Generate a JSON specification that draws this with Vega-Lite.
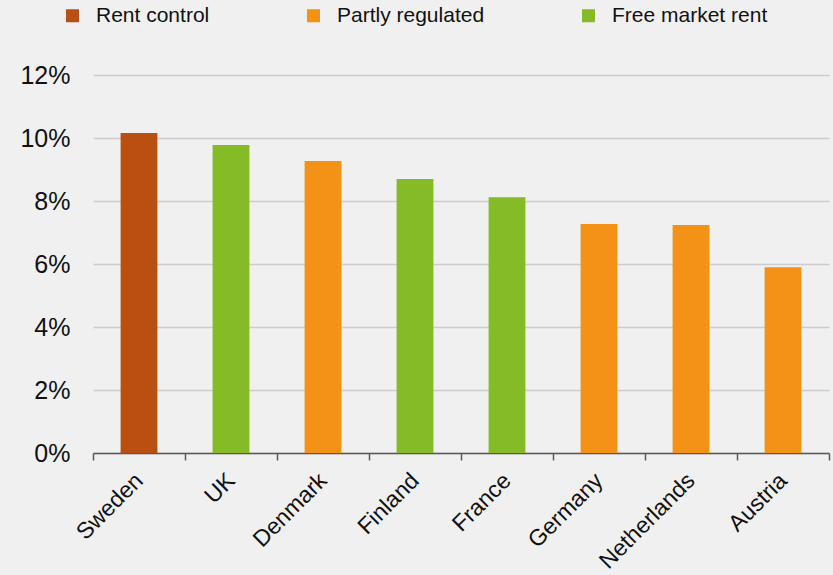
{
  "$schema": "https://vega.github.io/schema/vega-lite/v6.json",
  "autosize": "none",
  "width": 736,
  "height": 378,
  "padding": {"left": 93, "top": 75, "right": 4, "bottom": 122},
  "background": "#f0f0f0",
  "config": {
    "view": {"stroke": null},
    "font": "Liberation Sans",
    "axis": {"labelFont": "Liberation Sans", "labelColor": "#111111"},
    "legend": {"labelFont": "Liberation Sans"}
  },
  "data": {
    "values": [
      {"country": "Sweden", "share": 0.1016, "regime": "Rent control"},
      {"country": "UK", "share": 0.0978, "regime": "Free market rent"},
      {"country": "Denmark", "share": 0.0927, "regime": "Partly regulated"},
      {"country": "Finland", "share": 0.0870, "regime": "Free market rent"},
      {"country": "France", "share": 0.0812, "regime": "Free market rent"},
      {"country": "Germany", "share": 0.0727, "regime": "Partly regulated"},
      {"country": "Netherlands", "share": 0.0724, "regime": "Partly regulated"},
      {"country": "Austria", "share": 0.0590, "regime": "Partly regulated"}
    ]
  },
  "mark": {"type": "bar", "width": {"band": 0.4}},
  "encoding": {
    "x": {
      "field": "country",
      "type": "nominal",
      "sort": null,
      "title": null,
      "scale": {"paddingInner": 0, "paddingOuter": 0},
      "axis": {
        "labelAngle": -45,
        "labelFontSize": 23,
        "labelPadding": 9,
        "labelOffset": -8,
        "domainColor": "#595959",
        "domainWidth": 1.5,
        "tickColor": "#595959",
        "tickWidth": 1.5,
        "tickSize": 7,
        "tickBand": "extent",
        "grid": false
      }
    },
    "y": {
      "field": "share",
      "type": "quantitative",
      "title": null,
      "scale": {"domain": [0, 0.12]},
      "axis": {
        "values": [0, 0.02, 0.04, 0.06, 0.08, 0.1, 0.12],
        "format": ".0%",
        "labelFontSize": 25,
        "labelPadding": 23,
        "domain": false,
        "ticks": false,
        "grid": true,
        "gridColor": "#cccccc",
        "gridWidth": 1.5
      }
    },
    "color": {
      "field": "regime",
      "type": "nominal",
      "title": null,
      "scale": {
        "domain": ["Rent control", "Partly regulated", "Free market rent"],
        "range": ["#b94f11", "#f39216", "#85bb27"]
      },
      "legend": {
        "orient": "none",
        "legendX": -31,
        "legendY": -70,
        "direction": "horizontal",
        "columns": 3,
        "columnPadding": 93,
        "symbolType": "square",
        "symbolSize": 169,
        "symbolStrokeWidth": 0,
        "labelFontSize": 21,
        "labelColor": "#111111",
        "labelOffset": 13,
        "labelLimit": 300
      }
    }
  }
}
